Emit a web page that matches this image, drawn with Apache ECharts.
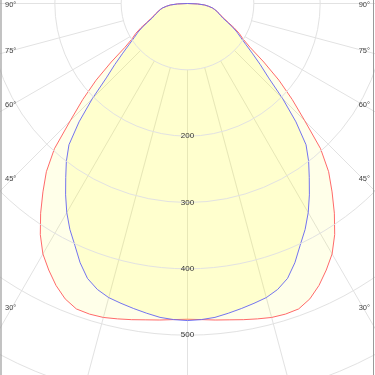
<!DOCTYPE html>
<html><head><meta charset="utf-8">
<script src="https://cdn.jsdelivr.net/npm/echarts@6/dist/echarts.min.js"></script>
<style>html,body{margin:0;padding:0;background:#fff}#c{width:375px;height:375px}</style>
</head><body><div id="c"></div>
<script>
// Angles in degrees from nadir (positive = left half, negative = right half)
const angles = [-90,-87.5,-85,-82.5,-80,-77.5,-75,-72.5,-70,-67.5,-65,-62.5,-60,-57.5,-55,-52.5,-50,-47.5,-45,-42.5,-40,-37.5,-35,-32.5,-30,-27.5,-25,-22.5,-20,-17.5,-15,-12.5,-10,-7.5,-5,-2.5,
  0,2.5,5,7.5,10,12.5,15,17.5,20,22.5,25,27.5,30,32.5,35,37.5,40,42.5,45,47.5,50,52.5,55,57.5,60,62.5,65,67.5,70,72.5,75,77.5,80,82.5,85,87.5,90];
// Outer (red) curve, cd
const redValues = [0,15,26,32,38,42,46,50,54,60,68,79,90,99,115,145,180,214,250,297,331,358,386,413,436,453,469,482,490,491,490,487,484,481,479,477,
  476,477,479,481,484,487,490,491,490,482,469,453,436,413,386,358,331,297,250,214,180,145,115,99,90,79,68,60,54,50,46,42,38,32,26,15,0];
// Inner (blue) curve, cd
const blueValues = [0,15,26,32,38,42,46,49,53,58,66,76,86,95,107,123,143,166,203,242,278,300,320,342,364,384,402,423,441,452,459,463,467,471,475,477,
  478,477,475,471,467,463,459,452,441,423,402,384,364,342,320,300,278,242,203,166,143,123,107,95,86,76,66,58,53,49,46,42,38,32,26,15,0];
// Ring labels and angle labels
const ringLabels = [200,300,400,500];
const angleLabels = [90,75,60,45,30];

const toAxisAngle = a => (a < 0 ? a + 360 : a);
const gridColor = '#e2e2e2';
const center = ['50%', 3.5];
const font = 'Liberation Sans, Arial, sans-serif';

const chart = echarts.init(document.getElementById('c'), null, {renderer:'canvas'});
const option = {
  animation: false,
  backgroundColor: '#fff',
  polar: [
    {center: center, radius: [0, 398]},
    {center: center, radius: [66.3, 398]}
  ],
  angleAxis: [
    {polarIndex:0, type:'value', min:0, max:360, interval:15, startAngle:270, clockwise:true,
     axisLine:{show:false}, axisTick:{show:false}, axisLabel:{show:false}, splitLine:{show:false}},
    {polarIndex:1, type:'value', min:0, max:360, interval:15, startAngle:270, clockwise:true,
     axisLine:{show:false}, axisTick:{show:false}, axisLabel:{show:false},
     splitLine:{show:true, lineStyle:{color:gridColor, width:1}}}
  ],
  radiusAxis: [
    {polarIndex:0, type:'value', min:0, max:600, interval:100, z: 10,
     axisLine:{show:false}, axisTick:{show:false},
     axisLabel:{show:true, margin:0, align:'center', verticalAlign:'middle', fontSize:8,
       fontFamily:font, color:'#333',
       formatter: v => ringLabels.includes(v) ? String(v) : ''},
     splitLine:{show:true, lineStyle:{color:gridColor, width:1}}},
    {polarIndex:1, type:'value', min:100, max:600, interval:100, show:false}
  ],
  series: [
    {type:'line', coordinateSystem:'polar', polarIndex:0, symbol:'none', z:2,
     data: angles.map((a,i)=>[redValues[i], toAxisAngle(a)]),
     lineStyle:{color:'#ff6a6a', width:1},
     areaStyle:{color:'rgba(255,250,0,0.12)'}},
    {type:'line', coordinateSystem:'polar', polarIndex:0, symbol:'none', z:3,
     data: angles.map((a,i)=>[blueValues[i], toAxisAngle(a)]),
     lineStyle:{color:'#6b6bf0', width:1, opacity:0.95},
     areaStyle:{color:'rgba(255,252,0,0.16)'}}
  ]
};
chart.setOption(option);

// Angle labels where each radial grid line meets the left / right edge
const c = chart.convertToPixel({seriesIndex:0}, [0, 0]);
const graphics = [];
angleLabels.forEach(a => {
  [[a, 12, 5, 'left'], [-a, 363, 370, 'right']].forEach(([ang, edgeX, textX, align]) => {
    const p = chart.convertToPixel({seriesIndex:0}, [600, toAxisAngle(ang)]);
    const dx = p[0]-c[0], dy = p[1]-c[1];
    const t = (edgeX - c[0]) / dx;
    const y = Math.max(c[1] + t*dy, 5);
    graphics.push({type:'text', x:textX, y:y, z:20,
      style:{text: a + '°', fill:'#444', fontSize:7.5, fontFamily:font,
        align:align, verticalAlign:'middle'}});
  });
});
graphics.push({type:'line', z:20, shape:{x1:1,y1:0,x2:1,y2:375}, style:{stroke:'#9a9a9a', lineWidth:1.2}});
graphics.push({type:'line', z:20, shape:{x1:373.5,y1:0,x2:373.5,y2:375}, style:{stroke:'#9a9a9a', lineWidth:1}});
chart.setOption({graphic: graphics});
</script>
</body></html>
